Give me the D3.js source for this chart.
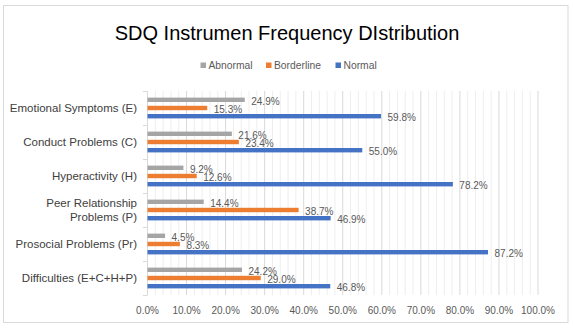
<!DOCTYPE html>
<html>
<head>
<meta charset="utf-8">
<script src="https://cdn.jsdelivr.net/npm/d3@7"></script>
<style>
  html, body { margin: 0; padding: 0; background: #ffffff; }
  svg { display: block; font-family: "Liberation Sans", Arial, sans-serif; }
</style>
</head>
<body>
<svg id="chart" width="573" height="328"></svg>
<script>
// Categories, top to bottom
const categories = [
  "Emotional Symptoms (E)",
  "Conduct Problems (C)",
  "Hyperactivity (H)",
  "Peer Relationship|Problems (P)",
  "Prosocial Problems (Pr)",
  "Difficulties (E+C+H+P)"
];
const seriesNames = ["Abnormal", "Borderline", "Normal"];
const seriesColors = ["#a5a5a5", "#ed7d31", "#4472c4"];

// Percentages per series, in category order
const abnormal   = [24.9, 21.6, 9.2, 14.4, 4.5, 24.2];
const borderline = [15.3, 23.4, 12.6, 38.7, 8.3, 29.0];
const normal     = [59.8, 55.0, 78.2, 46.9, 87.2, 46.8];

const xTicks = [0, 10, 20, 30, 40, 50, 60, 70, 80, 90, 100];
const xMinorTicks = d3.range(0, 101, 2);

const seriesValues = [abnormal, borderline, normal];

const svg = d3.select("#chart");

// Chart frame
svg.append("rect")
  .attr("x", 3.5).attr("y", 5.5)
  .attr("width", 564.5).attr("height", 317)
  .attr("fill", "#ffffff")
  .attr("stroke", "#d9d9d9")
  .attr("stroke-width", 1);

// Title
svg.append("text")
  .attr("x", 287).attr("y", 40)
  .attr("text-anchor", "middle")
  .attr("font-size", 20)
  .attr("fill", "#000000")
  .text("SDQ Instrumen Frequency DIstribution");

// Legend
const legendItems = [
  { name: "Abnormal", color: seriesColors[0], x: 200.5 },
  { name: "Borderline", color: seriesColors[1], x: 266 },
  { name: "Normal", color: seriesColors[2], x: 335.5 }
];
const lg = svg.append("g");
legendItems.forEach(d => {
  lg.append("rect")
    .attr("x", d.x).attr("y", 62.5)
    .attr("width", 5.5).attr("height", 5.5)
    .attr("fill", d.color);
  lg.append("text")
    .attr("x", d.x + 8).attr("y", 65.5)
    .attr("dy", "0.35em")
    .attr("font-size", 10.3)
    .attr("fill", "#595959")
    .text(d.name);
});

// Scales
const plotLeft = 147, plotRight = 537.5, plotTop = 91, plotBottom = 295;
const x = d3.scaleLinear().domain([0, 100]).range([plotLeft, plotRight]);
const y0 = d3.scaleBand()
  .domain(categories)
  .range([plotTop, plotBottom])
  .paddingInner(0.388)
  .paddingOuter(0.194);
const y1 = d3.scaleBand()
  .domain(seriesNames)
  .range([0, y0.bandwidth()])
  .paddingInner(0.463)
  .paddingOuter(0);

// Minor gridlines
svg.append("g")
  .selectAll("line")
  .data(xMinorTicks.filter(t => t % 10 !== 0))
  .join("line")
  .attr("x1", d => x(d) + 0.5).attr("x2", d => x(d) + 0.5)
  .attr("y1", plotTop).attr("y2", plotBottom)
  .attr("stroke", "#eeeeee")
  .attr("stroke-width", 1);

// Major gridlines
svg.append("g")
  .selectAll("line")
  .data(xTicks.filter(t => t > 0))
  .join("line")
  .attr("x1", d => x(d) + 0.5).attr("x2", d => x(d) + 0.5)
  .attr("y1", plotTop).attr("y2", plotBottom)
  .attr("stroke", "#d9d9d9")
  .attr("stroke-width", 1);

// X axis tick labels
const xAxis = d3.axisBottom(x)
  .tickValues(xTicks)
  .tickFormat(d => d.toFixed(1) + "%")
  .tickSize(0)
  .tickPadding(0);
const gx = svg.append("g")
  .attr("transform", `translate(0, ${plotBottom + 12})`)
  .call(xAxis);
gx.select(".domain").remove();
gx.selectAll("text")
  .attr("font-size", 10)
  .attr("fill", "#595959")
  .attr("font-family", "Liberation Sans, Arial, sans-serif");

// Y axis line with category separator ticks
const yAxisG = svg.append("g");
yAxisG.append("line")
  .attr("x1", plotLeft + 0.5).attr("x2", plotLeft + 0.5)
  .attr("y1", plotTop).attr("y2", plotBottom)
  .attr("stroke", "#d9d9d9");
const boundaries = d3.range(categories.length + 1).map(i => plotTop + i * y0.step());
yAxisG.selectAll("line.sep")
  .data(boundaries)
  .join("line")
  .attr("class", "sep")
  .attr("x1", plotLeft - 4).attr("x2", plotLeft + 0.5)
  .attr("y1", d => Math.round(d) + 0.5).attr("y2", d => Math.round(d) + 0.5)
  .attr("stroke", "#d9d9d9");

// Category labels
const catCenter = c => y0(c) + y0.bandwidth() / 2;
categories.forEach(c => {
  const lines = c.split("|");
  const t = svg.append("text")
    .attr("text-anchor", "end")
    .attr("font-size", 11.5)
    .attr("fill", "#404040");
  const lh = 14.4;
  lines.forEach((ln, i) => {
    t.append("tspan")
      .attr("x", 137)
      .attr("y", catCenter(c) + (i - (lines.length - 1) / 2) * lh)
      .attr("dy", "0.35em")
      .text(ln);
  });
});

// Bars and value labels
const barData = [];
categories.forEach((c, ci) => {
  seriesNames.forEach((s, si) => {
    barData.push({ cat: c, series: s, color: seriesColors[si], value: seriesValues[si][ci] });
  });
});

svg.append("g")
  .selectAll("rect")
  .data(barData)
  .join("rect")
  .attr("x", x(0) + 0.5)
  .attr("y", d => y0(d.cat) + y1(d.series))
  .attr("width", d => x(d.value) - x(0))
  .attr("height", y1.bandwidth())
  .attr("fill", d => d.color);

svg.append("g")
  .selectAll("text")
  .data(barData)
  .join("text")
  .attr("x", d => x(d.value) + 7)
  .attr("y", d => y0(d.cat) + y1(d.series) + y1.bandwidth() / 2 + 1.5)
  .attr("dy", "0.35em")
  .attr("font-size", 10)
  .attr("fill", "#595959")
  .text(d => d.value.toFixed(1) + "%");
</script>
</body>
</html>
